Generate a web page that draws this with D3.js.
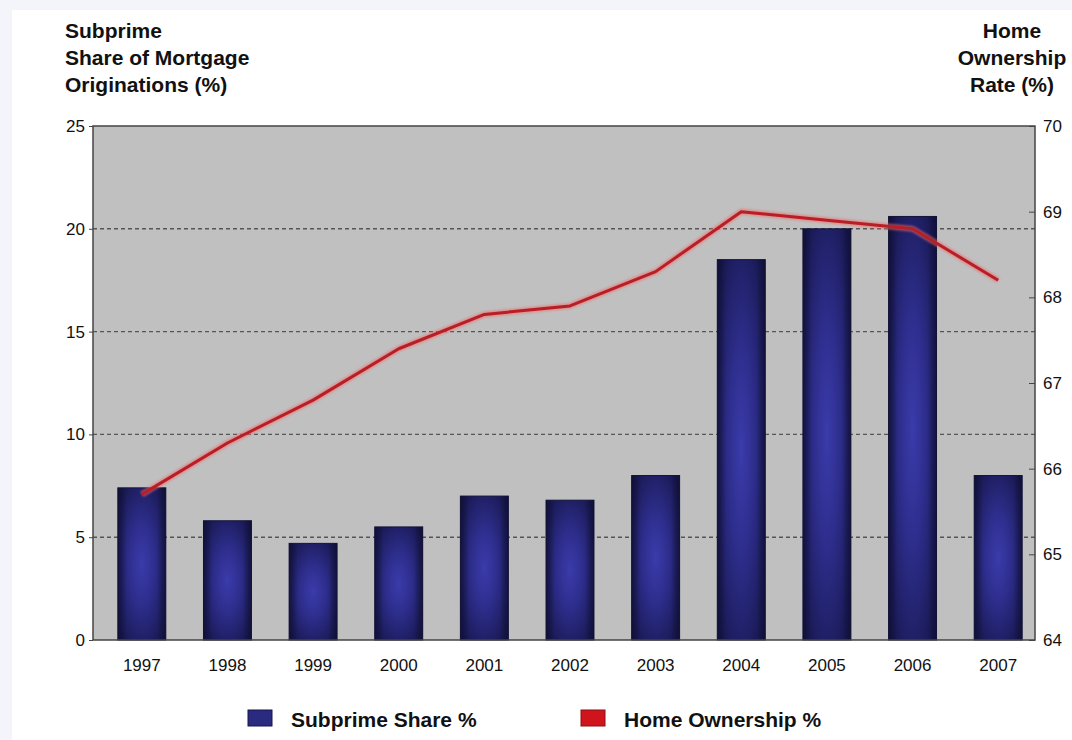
<!DOCTYPE html>
<html>
<head>
<meta charset="utf-8">
<script src="https://cdn.jsdelivr.net/npm/d3@7/dist/d3.min.js"></script>
<style>
  html, body { margin: 0; padding: 0; background: #f3f5fb; }
  svg { display: block; }
  text { font-family: "Liberation Sans", Arial, sans-serif; fill: #111; }
</style>
</head>
<body>
<svg id="chart" width="1072" height="740"></svg>
<script>
// Data
const years = ["1997", "1998", "1999", "2000", "2001", "2002", "2003", "2004", "2005", "2006", "2007"];
const subprimeShare = [7.4, 5.8, 4.7, 5.5, 7.0, 6.8, 8.0, 18.5, 20.0, 20.6, 8.0];
const homeOwnership = [65.7, 66.3, 66.8, 67.4, 67.8, 67.9, 68.3, 69.0, 68.9, 68.8, 68.2];
const leftTicks = [0, 5, 10, 15, 20, 25];
const rightTicks = [64, 65, 66, 67, 68, 69, 70];
const legendItems = ["Subprime Share %", "Home Ownership %"];

const svg = d3.select("#chart");
const W = 1072, H = 740;

// white panel
svg.append("rect").attr("x", 12).attr("y", 10).attr("width", W - 12).attr("height", H - 10).attr("fill", "#ffffff");

const plot = { left: 93, top: 126, right: 1035, bottom: 640 };

// categories sit slightly right of the frame's centre
const x = d3.scaleBand().domain(years).range([plot.left + 6, plot.right + 6]).paddingInner(0.44).paddingOuter(0.22);
const yL = d3.scaleLinear().domain([0, 25]).range([plot.bottom, plot.top]);
const yR = d3.scaleLinear().domain([64, 70]).range([plot.bottom, plot.top]);

const defs = svg.append("defs");
const grad = defs.append("radialGradient").attr("id", "barGrad")
  .attr("cx", "50%").attr("cy", "50%").attr("r", "75%").attr("fx", "50%").attr("fy", "50%");
grad.append("stop").attr("offset", "0%").attr("stop-color", "#3b3bab");
grad.append("stop").attr("offset", "35%").attr("stop-color", "#2e2e8e");
grad.append("stop").attr("offset", "75%").attr("stop-color", "#1c1c5c");
grad.append("stop").attr("offset", "100%").attr("stop-color", "#12123e");

const hgrad = defs.append("linearGradient").attr("id", "barEdge").attr("x1", "0").attr("x2", "1").attr("y1", "0").attr("y2", "0");
hgrad.append("stop").attr("offset", "0%").attr("stop-color", "#0e0e30").attr("stop-opacity", 0.7);
hgrad.append("stop").attr("offset", "18%").attr("stop-color", "#0e0e30").attr("stop-opacity", 0);
hgrad.append("stop").attr("offset", "82%").attr("stop-color", "#0e0e30").attr("stop-opacity", 0);
hgrad.append("stop").attr("offset", "100%").attr("stop-color", "#0e0e30").attr("stop-opacity", 0.7);

const glow = defs.append("filter").attr("id", "glow").attr("x", "-5%").attr("y", "-5%").attr("width", "110%").attr("height", "110%");
glow.append("feGaussianBlur").attr("stdDeviation", 1.2);

// plot background
svg.append("rect")
  .attr("x", plot.left).attr("y", plot.top)
  .attr("width", plot.right - plot.left).attr("height", plot.bottom - plot.top)
  .attr("fill", "#c0c0c0");

// dashed gridlines
svg.append("g").selectAll("line")
  .data(leftTicks.filter(d => d > 0 && d < 25))
  .join("line")
  .attr("x1", plot.left).attr("x2", plot.right)
  .attr("y1", d => yL(d)).attr("y2", d => yL(d))
  .attr("stroke", "#555").attr("stroke-width", 1.4).attr("stroke-dasharray", "4,3");

// bars
const barData = years.map((y, i) => ({ y, v: subprimeShare[i] }));
const bars = svg.append("g");
bars.selectAll("rect.b")
  .data(barData)
  .join("rect").attr("class", "b")
  .attr("x", d => x(d.y)).attr("width", x.bandwidth())
  .attr("y", d => yL(d.v)).attr("height", d => yL(0) - yL(d.v))
  .attr("fill", "url(#barGrad)").attr("stroke", "#14143c").attr("stroke-width", 1);
bars.selectAll("rect.e")
  .data(barData)
  .join("rect").attr("class", "e")
  .attr("x", d => x(d.y)).attr("width", x.bandwidth())
  .attr("y", d => yL(d.v)).attr("height", d => yL(0) - yL(d.v))
  .attr("fill", "url(#barEdge)");

// frame
svg.append("rect")
  .attr("x", plot.left).attr("y", plot.top)
  .attr("width", plot.right - plot.left).attr("height", plot.bottom - plot.top)
  .attr("fill", "none").attr("stroke", "#444").attr("stroke-width", 1.5);

// home ownership line
const line = d3.line().x((d, i) => x(years[i]) + x.bandwidth() / 2).y(d => yR(d));
svg.append("path").datum(homeOwnership).attr("d", line)
  .attr("fill", "none").attr("stroke", "#f06a6a").attr("stroke-width", 6).attr("stroke-opacity", 0.6)
  .attr("filter", "url(#glow)");
svg.append("path").datum(homeOwnership).attr("d", line)
  .attr("fill", "none").attr("stroke", "#b81e26").attr("stroke-width", 3).attr("stroke-linejoin", "round");

// left axis
const axL = d3.axisLeft(yL).tickValues(leftTicks).tickSize(4).tickPadding(4);
const gL = svg.append("g").attr("transform", `translate(${plot.left},0)`).call(axL);
gL.select(".domain").remove();
gL.selectAll("line").attr("stroke", "#444");
gL.selectAll("text").attr("font-size", 17).attr("fill", "#111");

// right axis
const axR = d3.axisRight(yR).tickValues(rightTicks).tickFormat(d3.format("d")).tickSize(-6).tickPadding(8);
const gR = svg.append("g").attr("transform", `translate(${plot.right},0)`).call(axR);
gR.select(".domain").remove();
gR.selectAll("line").attr("stroke", "#444");
gR.selectAll("text").attr("font-size", 17).attr("fill", "#111");

// bottom axis
const axB = d3.axisBottom(x).tickSize(0).tickPadding(19);
const gB = svg.append("g").attr("transform", `translate(0,${plot.bottom})`).call(axB);
gB.select(".domain").remove();
gB.selectAll("text").attr("font-size", 17).attr("fill", "#111").attr("dy", "0.71em");

// axis titles
const leftTitle = ["Subprime", "Share of Mortgage", "Originations (%)"];
svg.append("text").attr("x", 65).attr("y", 38).attr("font-size", 21).attr("font-weight", "bold")
  .selectAll("tspan").data(leftTitle).join("tspan")
  .attr("x", 65).attr("dy", (d, i) => i === 0 ? 0 : 27).text(d => d);

const rightTitle = ["Home", "Ownership", "Rate (%)"];
svg.append("text").attr("y", 38).attr("font-size", 21).attr("font-weight", "bold").attr("text-anchor", "middle")
  .selectAll("tspan").data(rightTitle).join("tspan")
  .attr("x", 1012).attr("dy", (d, i) => i === 0 ? 0 : 27).text(d => d);

// legend
const legColors = ["#2a2a7e", "#d0141c"];
const legX = [248, 581];
const leg = svg.append("g");
legendItems.forEach((t, i) => {
  leg.append("rect").attr("x", legX[i]).attr("y", 710).attr("width", 24).attr("height", 16)
    .attr("fill", legColors[i]).attr("stroke", i === 0 ? "#161650" : "#8a1015").attr("stroke-width", 1);
  leg.append("text").attr("x", legX[i] + 43).attr("y", 727).attr("font-size", 21).attr("font-weight", "bold").text(t);
});
</script>
</body>
</html>
